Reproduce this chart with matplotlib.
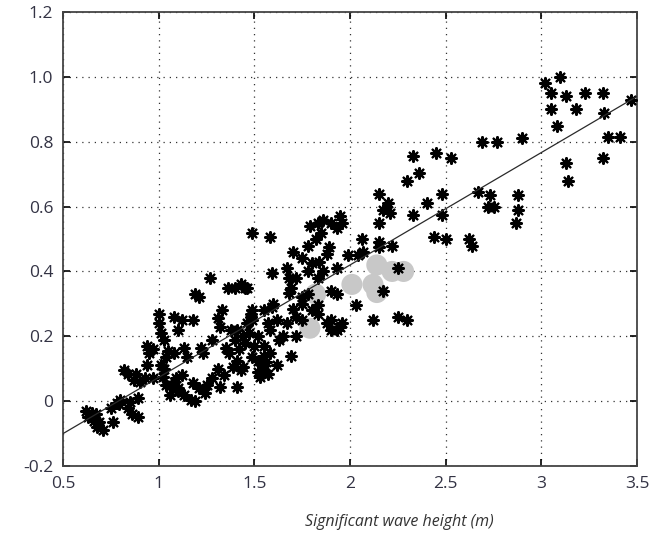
import numpy as np
import matplotlib.pyplot as plt

plt.rcParams['font.family'] = ['Open Sans', 'DejaVu Sans']

# black asterisks (significant wave height, value)
hs_black = [3.02, 3.10, 3.05, 3.13, 3.23, 3.32, 3.05, 3.18, 3.33, 3.47, 3.08, 3.35, 3.41,
            2.69, 2.77, 2.90, 3.32, 3.13, 3.14, 2.67, 2.73, 2.72, 2.75, 2.88, 2.88, 2.87,
            2.62, 2.64,
            2.33, 2.45, 2.53, 2.36, 2.30, 2.15, 2.48, 2.40, 2.20, 2.17, 2.21, 2.33, 2.48,
            2.15, 1.95, 1.96, 2.44, 2.50, 2.06, 2.15, 2.15, 2.22, 1.99, 2.04, 2.07, 1.93,
            2.25, 2.17, 2.03, 2.12, 2.25, 2.30, 1.93, 1.90, 1.93, 1.96,
            1.49, 1.58, 1.70, 1.79, 1.83, 1.86, 1.90, 1.93, 1.89, 1.88, 1.80, 1.84, 1.67,
            1.59, 1.78, 1.83, 1.86, 1.40, 1.45, 1.68, 1.69, 1.68, 1.90, 1.75, 1.83, 1.83,
            1.70, 1.72, 1.59, 1.55, 1.48, 1.49, 1.57, 1.58, 1.67, 1.75, 1.88, 1.90, 1.95,
            1.41, 1.44, 1.65, 1.72,
            1.75, 1.78, 1.82, 1.85, 1.75, 1.72, 1.60, 1.62, 1.63, 1.78, 1.80, 1.69,
            1.27, 1.36, 1.43, 1.46, 1.19, 1.21, 1.33, 1.31, 1.32, 1.49, 1.48, 1.46, 1.00,
            1.00, 1.01, 1.08, 1.12, 1.18, 1.10, 1.28, 0.94, 0.95, 1.03, 1.05, 1.08, 1.13,
            1.15, 1.22, 1.23, 1.35, 1.37, 1.41, 1.39, 1.43, 1.49, 1.52, 1.55, 1.53, 1.57,
            1.62, 0.94, 1.01, 1.03, 0.93, 0.97, 1.02, 1.07, 1.10, 1.18, 1.21, 1.24, 1.31,
            1.34, 1.41, 1.32, 1.44,
            1.54, 1.56, 1.52, 1.55, 1.50, 1.45, 1.40, 1.42, 1.47, 1.38, 1.52, 1.55, 1.58,
            0.97, 1.04, 0.82, 0.84, 0.88, 0.87, 0.90, 0.80, 0.79, 0.89, 0.85, 0.84, 0.89,
            0.86, 0.75, 0.78, 0.63, 0.66, 0.69, 0.68, 0.71, 0.76, 0.62, 0.65, 0.67,
            1.10, 1.13, 1.17, 1.19, 1.25, 1.28, 1.06, 1.09, 1.12, 1.04]
val_black = [0.98, 1.00, 0.95, 0.94, 0.95, 0.95, 0.90, 0.90, 0.89, 0.93, 0.85, 0.815, 0.815,
             0.80, 0.80, 0.81, 0.75, 0.735, 0.68, 0.645, 0.635, 0.60, 0.60, 0.635, 0.59, 0.55,
             0.50, 0.48,
             0.755, 0.765, 0.75, 0.705, 0.68, 0.64, 0.64, 0.61, 0.61, 0.59, 0.58, 0.575, 0.575,
             0.55, 0.57, 0.55, 0.505, 0.50, 0.50, 0.49, 0.475, 0.48, 0.45, 0.45, 0.46, 0.41,
             0.41, 0.34, 0.295, 0.25, 0.26, 0.25, 0.33, 0.25, 0.22, 0.24,
             0.52, 0.505, 0.46, 0.54, 0.55, 0.56, 0.55, 0.535, 0.475, 0.455, 0.425, 0.43, 0.41,
             0.395, 0.40, 0.38, 0.40, 0.35, 0.35, 0.38, 0.35, 0.335, 0.34, 0.32, 0.295, 0.27,
             0.285, 0.26, 0.29, 0.28, 0.27, 0.25, 0.24, 0.22, 0.24, 0.25, 0.24, 0.22, 0.23,
             0.22, 0.20, 0.20, 0.20,
             0.30, 0.48, 0.50, 0.52, 0.44, 0.38, 0.30, 0.25, 0.19, 0.33, 0.28, 0.14,
             0.38, 0.35, 0.36, 0.35, 0.33, 0.32, 0.28, 0.255, 0.23, 0.28, 0.26, 0.24, 0.27,
             0.24, 0.21, 0.26, 0.25, 0.25, 0.22, 0.19, 0.17, 0.15, 0.19, 0.155, 0.15, 0.165,
             0.135, 0.165, 0.15, 0.165, 0.15, 0.125, 0.105, 0.095, 0.135, 0.125, 0.095, 0.075, 0.085,
             0.11, 0.11, 0.11, 0.10, 0.07, 0.07, 0.075, 0.05, 0.04, 0.055, 0.04, 0.025, 0.10,
             0.08, 0.045, 0.045, 0.105,
             0.11, 0.12, 0.09, 0.14, 0.17, 0.18, 0.19, 0.16, 0.21, 0.22, 0.20, 0.17, 0.15,
             0.16, 0.135, 0.095, 0.085, 0.085, 0.065, 0.06, 0.003, -0.01, 0.01, -0.003, -0.02, -0.05,
             -0.04, -0.02, -0.005, -0.05, -0.06, -0.065, -0.08, -0.09, -0.065, -0.03, -0.035, -0.04,
             0.03, 0.02, 0.005, 0.0, 0.05, 0.07, 0.02, 0.07, 0.08, 0.05]

# grey dots
hs_grey = [1.82, 1.79, 2.01, 2.12, 2.14, 2.22, 2.28, 2.14]
val_grey = [0.33, 0.225, 0.36, 0.36, 0.42, 0.40, 0.40, 0.335]

# fitted line end points
fit_x = [0.5, 3.5]
fit_y = [-0.10, 0.94]

xticks = [0.5, 1, 1.5, 2, 2.5, 3, 3.5]
xticklabels = ['0.5', '1', '1.5', '2', '2.5', '3', '3.5']
yticks = [-0.2, 0, 0.2, 0.4, 0.6, 0.8, 1.0, 1.2]
yticklabels = ['-0.2', '0', '0.2', '0.4', '0.6', '0.8', '1.0', '1.2']

fig = plt.figure(figsize=(6.5, 5.34), dpi=100)
ax = fig.add_axes([0.097, 0.1273, 0.883, 0.8502])

ax.scatter(hs_grey, val_grey, s=230, color='#c8c8c8', edgecolors='none', zorder=2)
ax.scatter(hs_black, val_black, s=60, marker=(8, 2, 0), color='black', linewidths=1.6, zorder=3)
ax.plot(fit_x, fit_y, color='#2a2a2a', lw=0.9, zorder=4)

ax.set_xlim(0.5, 3.5)
ax.set_ylim(-0.2, 1.2)
ax.set_xticks(xticks)
ax.set_xticklabels(xticklabels)
ax.set_yticks(yticks)
ax.set_yticklabels(yticklabels)
ax.grid(True, color='#333333', linestyle=(0, (1, 4)), linewidth=0.9)
ax.set_axisbelow(True)
ax.tick_params(direction='in', top=True, right=True, length=5, width=1.2,
               labelsize=12.5, labelcolor='#333344', pad=7)
for sp in ax.spines.values():
    sp.set_color('#444444')
    sp.set_linewidth(1.3)

fig.text(0.614, 0.0225, 'Significant wave height (m)', style='italic', fontsize=11.5,
         color='#333333', ha='center', va='center')

fig.savefig('out.png', dpi=100)
